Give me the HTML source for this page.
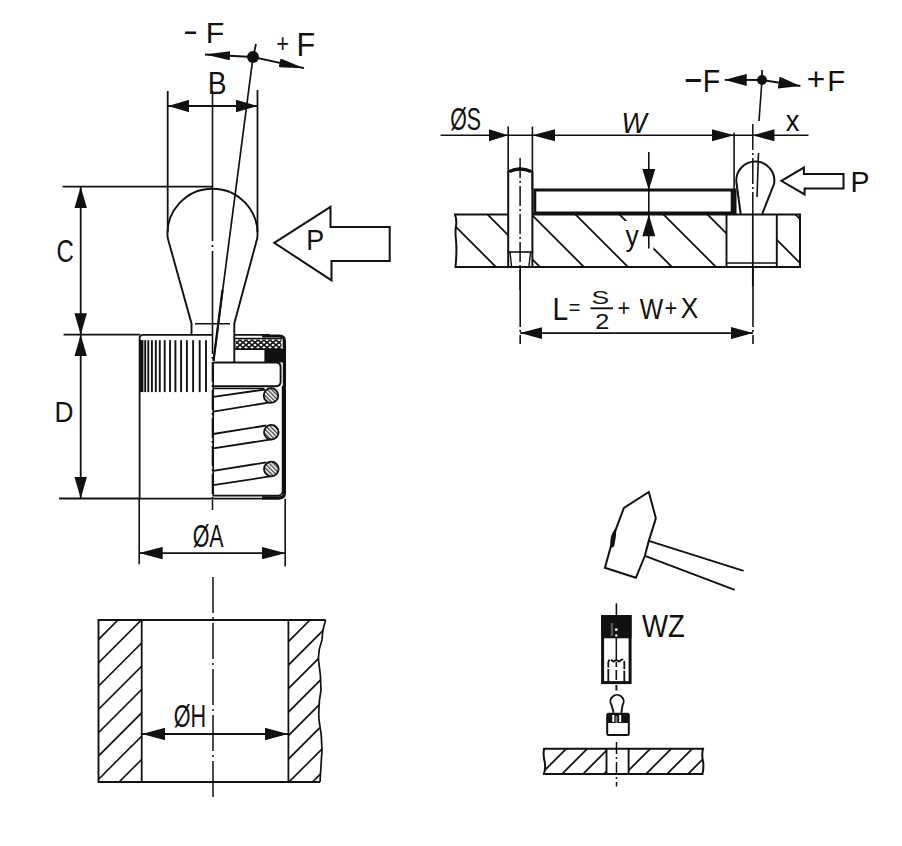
<!DOCTYPE html>
<html><head><meta charset="utf-8">
<style>
html,body{margin:0;padding:0;background:#fff;width:902px;height:846px;overflow:hidden}
svg{display:block}
text{font-family:"Liberation Sans",sans-serif;fill:#111}
</style></head><body>
<svg width="902" height="846" viewBox="0 0 902 846">
<defs>
<marker id="ah" viewBox="0 0 21.5 12.5" refX="21.5" refY="6.25" markerWidth="21.5" markerHeight="12.5" markerUnits="userSpaceOnUse" orient="auto-start-reverse"><path d="M0,0 L21.5,6.25 L0,12.5 Z" fill="#111"/></marker>
<marker id="ah2" viewBox="0 0 22 12" refX="22" refY="6" markerWidth="22" markerHeight="12" markerUnits="userSpaceOnUse" orient="auto-start-reverse"><path d="M0,0 L22,6 L0,12 Z" fill="#111"/></marker>
<pattern id="xh" width="6" height="5" patternUnits="userSpaceOnUse"><rect width="6" height="5" fill="#fff"/><path d="M0,0 L6,5 M6,0 L0,5" stroke="#111" stroke-width="1.6"/></pattern>
<pattern id="dh" width="3" height="3" patternUnits="userSpaceOnUse" patternTransform="rotate(-45)"><rect width="3" height="3" fill="#fff"/><line x1="0.7" y1="0" x2="0.7" y2="3" stroke="#333" stroke-width="1.3"/></pattern>
<marker id="ah3" viewBox="0 0 25 9" refX="25" refY="4.5" markerWidth="25" markerHeight="9" markerUnits="userSpaceOnUse" orient="auto-start-reverse"><path d="M0,0 L25,4.5 L0,9 Z" fill="#111"/></marker>
<marker id="ahL" viewBox="0 0 23.5 12.5" refX="23.5" refY="6.25" markerWidth="23.5" markerHeight="12.5" markerUnits="userSpaceOnUse" orient="auto-start-reverse"><path d="M0,0 L23.5,6.25 L0,12.5 Z" fill="#111"/></marker>
</defs>
<g stroke="#111" fill="none" stroke-width="1.8" stroke-linecap="butt">

<!-- ============ LEFT TOP: lever ============ -->
<!-- -F / +F arrows -->
<circle cx="253" cy="57" r="6" fill="#111" stroke="none"/>
<line x1="253" y1="57" x2="256" y2="44"/>
<line x1="253" y1="57" x2="205" y2="54.5" marker-end="url(#ah3)"/>
<line x1="253" y1="57" x2="304" y2="68.2" marker-end="url(#ah3)"/>
<!-- lever tilted line -->
<line x1="253" y1="57" x2="213.5" y2="361" stroke-width="1.7"/>
<line x1="222.5" y1="290" x2="213.5" y2="361" stroke-width="2.2"/>

<!-- B dimension -->
<line x1="167.7" y1="91" x2="167.7" y2="232"/>
<line x1="257.5" y1="90" x2="257.5" y2="232"/>
<line x1="167.7" y1="106" x2="257.5" y2="106" marker-start="url(#ah)" marker-end="url(#ah)"/>

<!-- centerline left -->
<line x1="212.5" y1="91" x2="212.5" y2="334" stroke-width="1.6" stroke-dasharray="150 4 2 4"/>

<!-- C / D dimension -->
<line x1="62.5" y1="186.6" x2="212.5" y2="186.6"/>
<line x1="63.6" y1="334.7" x2="140" y2="334.7"/>
<line x1="59" y1="498.5" x2="140" y2="498.5"/>
<line x1="80.7" y1="186.6" x2="80.7" y2="334.7" marker-start="url(#ah)" marker-end="url(#ah)"/>
<line x1="80.7" y1="334.7" x2="80.7" y2="498.5" marker-start="url(#ah)" marker-end="url(#ah)"/>

<!-- knob -->
<path d="M191.5,334.5 L191.5,323.5 L167.7,238 A45,45 0 1 1 257.3,238 L234.3,323.5 L234.3,362.5" stroke-width="1.9"/>
<line x1="195" y1="323.8" x2="230" y2="323.8" stroke-width="1.4"/>

<!-- P arrow left -->
<path d="M274.2,242.8 L330.5,206.8 L330.5,227 L389.7,227 L389.7,260.9 L331.5,260.9 L331.5,280.3 Z" stroke-width="2"/>


<!-- ============ BODY ============ -->
<path d="M212.5,334.8 L143,334.8 Q139.6,334.8 139.6,338.5 L139.6,498.7 L279.5,498.7" stroke-width="1.8"/>
<line x1="234.3" y1="334.8" x2="270" y2="334.8" stroke-width="1.8"/>
<line x1="284.4" y1="342" x2="284.4" y2="494" stroke-width="3.2"/>
<path d="M262,336 L279.5,336 Q284.4,336 284.4,341 L284.4,350" stroke-width="3.2"/>
<path d="M262,497.8 L279.5,497.8 Q284.4,497.8 284.4,493" stroke-width="3.2"/>
<!-- knurl -->
<g stroke-width="1.9"><line x1="142.5" y1="340.2" x2="142.5" y2="392.1"/><line x1="145.2" y1="340.2" x2="145.2" y2="392.1"/><line x1="148.3" y1="340.2" x2="148.3" y2="392.1"/><line x1="151.9" y1="340.2" x2="151.9" y2="392.1"/><line x1="155.8" y1="340.2" x2="155.8" y2="392.1"/><line x1="159.8" y1="340.2" x2="159.8" y2="392.1"/><line x1="164.7" y1="340.2" x2="164.7" y2="392.1"/><line x1="170" y1="340.2" x2="170" y2="392.1"/><line x1="175.4" y1="340.2" x2="175.4" y2="392.1"/><line x1="181.1" y1="340.2" x2="181.1" y2="392.1"/><line x1="186.9" y1="340.2" x2="186.9" y2="392.1"/><line x1="193.1" y1="340.2" x2="193.1" y2="392.1"/><line x1="199.7" y1="340.2" x2="199.7" y2="392.1"/><line x1="206" y1="340.2" x2="206" y2="392.1"/></g>
<line x1="140.8" y1="340" x2="140.8" y2="392" stroke-width="2.6"/>
<!-- inner section -->
<line x1="212.5" y1="334" x2="212.5" y2="500" stroke-width="1.6" stroke-dasharray="20 3 2 3"/>
<path d="M213.2,362.5 L213.2,495.6 L278,495.6 Q282.6,495.6 282.6,491 L282.6,386" stroke-width="1.7"/>
<!-- packing -->
<rect x="235.5" y="339.5" width="46" height="9.5" fill="url(#xh)" stroke="none"/>
<line x1="235" y1="338.5" x2="282" y2="338.5" stroke-width="1.4"/>
<line x1="235" y1="349.2" x2="282" y2="349.2" stroke-width="1.6"/>
<rect x="264.4" y="349" width="20" height="13.5" fill="#111" stroke="none"/>
<!-- plunger -->
<path d="M213.2,362.5 L276,362.5 Q280.6,362.5 280.6,367 L280.6,381.5 Q280.6,386.2 276,386.2 L213.2,386.2" stroke-width="1.9"/>
<line x1="213.2" y1="388.5" x2="264" y2="388.5" stroke-width="1.4"/>
<!-- coils -->
<g stroke-width="1.8">
<line x1="213.2" y1="396.8" x2="265" y2="389.5"/>
<line x1="213.2" y1="411.6" x2="271" y2="402.2"/>
<line x1="213.2" y1="434" x2="266.3" y2="425.5"/>
<line x1="213.2" y1="448.4" x2="271.3" y2="439.4"/>
<line x1="213.2" y1="470.9" x2="266.3" y2="462.3"/>
<line x1="213.2" y1="485.2" x2="271.3" y2="476.2"/>
</g>
<g fill="url(#dh)" stroke-width="1.8">
<circle cx="271" cy="395.5" r="7.3"/>
<circle cx="271.3" cy="432.2" r="7.3"/>
<circle cx="271.3" cy="469" r="7.3"/>
</g>

<!-- ØA dimension -->
<line x1="139.2" y1="498.7" x2="139.2" y2="564.3" stroke-width="1.6"/>
<line x1="285.2" y1="498.7" x2="285.2" y2="566.5" stroke-width="1.6"/>
<line x1="139.2" y1="553.1" x2="285.2" y2="553.1" marker-start="url(#ahL)" marker-end="url(#ahL)"/>
<line x1="212.5" y1="500" x2="212.5" y2="510" stroke-width="1.5"/>
<line x1="213" y1="577" x2="213" y2="800" stroke-width="1.5" stroke-dasharray="36 4 2 4"/>

<!-- ============ HOLE SECTION ============ -->
<clipPath id="cl1"><rect x="98.5" y="620" width="43.2" height="162"/></clipPath>
<clipPath id="cl2"><path d="M288.4,620 L325.6,620 L322,640 L318.5,660 L321,690 L319,720 L322,750 L320,782 L288.4,782 Z"/></clipPath>
<g clip-path="url(#cl1)" stroke-width="1.6">
<line x1="-108.6" y1="800" x2="91.4" y2="600"/><line x1="-85.3" y1="800" x2="114.7" y2="600"/><line x1="-62.0" y1="800" x2="138.0" y2="600"/><line x1="-38.7" y1="800" x2="161.3" y2="600"/><line x1="-15.4" y1="800" x2="184.6" y2="600"/><line x1="7.9" y1="800" x2="207.9" y2="600"/><line x1="31.2" y1="800" x2="231.2" y2="600"/><line x1="54.5" y1="800" x2="254.5" y2="600"/><line x1="77.8" y1="800" x2="277.8" y2="600"/><line x1="101.1" y1="800" x2="301.1" y2="600"/><line x1="124.4" y1="800" x2="324.4" y2="600"/><line x1="147.7" y1="800" x2="347.7" y2="600"/>
</g>
<g clip-path="url(#cl2)" stroke-width="1.6">
<line x1="83.0" y1="800" x2="283.0" y2="600"/><line x1="106.5" y1="800" x2="306.5" y2="600"/><line x1="130.0" y1="800" x2="330.0" y2="600"/><line x1="153.5" y1="800" x2="353.5" y2="600"/><line x1="177.0" y1="800" x2="377.0" y2="600"/><line x1="200.5" y1="800" x2="400.5" y2="600"/><line x1="224.0" y1="800" x2="424.0" y2="600"/><line x1="247.5" y1="800" x2="447.5" y2="600"/><line x1="271.0" y1="800" x2="471.0" y2="600"/><line x1="294.5" y1="800" x2="494.5" y2="600"/><line x1="318.0" y1="800" x2="518.0" y2="600"/><line x1="341.5" y1="800" x2="541.5" y2="600"/>
</g>
<path d="M325.6,620 L98.5,620 L98.5,782 L320,782" stroke-width="1.9"/>
<path d="M325.6,620 Q322,630 322,640 Q318,650 318.5,660 Q321,675 321,690 Q318,705 319,720 Q322,735 322,750 Q321,765 320,782" stroke-width="1.7"/>
<line x1="141.7" y1="620" x2="141.7" y2="782" stroke-width="1.8"/>
<line x1="288.4" y1="620" x2="288.4" y2="782" stroke-width="1.8"/>
<line x1="141.7" y1="734" x2="288.4" y2="734" marker-start="url(#ahL)" marker-end="url(#ahL)"/>

<!-- ============ RIGHT TOP ============ -->
<circle cx="762" cy="80" r="5" fill="#111" stroke="none"/>
<line x1="762" y1="80" x2="762" y2="70"/>
<line x1="762" y1="80" x2="724.7" y2="79.8" marker-end="url(#ah2)"/>
<line x1="762" y1="80" x2="800.4" y2="86" marker-end="url(#ah2)"/>
<line x1="762" y1="80" x2="759" y2="121" stroke-width="1.6"/>
<!-- dim line S/W/x -->
<line x1="440.6" y1="135.3" x2="808.5" y2="135.3" stroke-width="1.6"/>
<path d="M489,129.3 L508.2,135.3 L489,141.3 Z M555,129.3 L532.4,135.3 L555,141.3 Z M712,129.3 L734.1,135.3 L712,141.3 Z M774.4,129.3 L752.6,135.3 L774.4,141.3 Z" fill="#111" stroke="none"/>
<line x1="508.2" y1="126.6" x2="508.2" y2="172" stroke-width="1.6"/>
<line x1="532.4" y1="126.6" x2="532.4" y2="190" stroke-width="1.6"/>
<line x1="734.1" y1="132.7" x2="734.1" y2="190" stroke-width="1.6"/>
<line x1="752.8" y1="124" x2="752.8" y2="214" stroke-width="1.5" stroke-dasharray="26 3 2 3"/>
<line x1="752.8" y1="214" x2="752.8" y2="286" stroke-width="1.7"/>
<!-- plate hatching -->
<clipPath id="cp1"><path d="M455.5,214.5 L508.2,214.5 L508.2,267 L455.5,267 Z"/></clipPath>
<clipPath id="cp2"><path d="M532.4,214.5 L726.5,214.5 L726.5,267 L532.4,267 Z"/></clipPath>
<clipPath id="cp3"><path d="M776.8,214.5 L800,214.5 L800,267 L776.8,267 Z"/></clipPath>
<g stroke-width="1.8">
<g clip-path="url(#cp1)"><line x1="385.0" y1="200" x2="465.0" y2="280"/><line x1="429.0" y1="200" x2="509.0" y2="280"/><line x1="473.0" y1="200" x2="553.0" y2="280"/><line x1="517.0" y1="200" x2="597.0" y2="280"/><line x1="561.0" y1="200" x2="641.0" y2="280"/><line x1="605.0" y1="200" x2="685.0" y2="280"/><line x1="649.0" y1="200" x2="729.0" y2="280"/><line x1="693.0" y1="200" x2="773.0" y2="280"/><line x1="737.0" y1="200" x2="817.0" y2="280"/><line x1="781.0" y1="200" x2="861.0" y2="280"/><line x1="825.0" y1="200" x2="905.0" y2="280"/></g>
<g clip-path="url(#cp2)"><line x1="385.0" y1="200" x2="465.0" y2="280"/><line x1="429.0" y1="200" x2="509.0" y2="280"/><line x1="473.0" y1="200" x2="553.0" y2="280"/><line x1="517.0" y1="200" x2="597.0" y2="280"/><line x1="561.0" y1="200" x2="641.0" y2="280"/><line x1="605.0" y1="200" x2="685.0" y2="280"/><line x1="649.0" y1="200" x2="729.0" y2="280"/><line x1="693.0" y1="200" x2="773.0" y2="280"/><line x1="737.0" y1="200" x2="817.0" y2="280"/><line x1="781.0" y1="200" x2="861.0" y2="280"/><line x1="825.0" y1="200" x2="905.0" y2="280"/></g>
<g clip-path="url(#cp3)"><line x1="385.0" y1="200" x2="465.0" y2="280"/><line x1="429.0" y1="200" x2="509.0" y2="280"/><line x1="473.0" y1="200" x2="553.0" y2="280"/><line x1="517.0" y1="200" x2="597.0" y2="280"/><line x1="561.0" y1="200" x2="641.0" y2="280"/><line x1="605.0" y1="200" x2="685.0" y2="280"/><line x1="649.0" y1="200" x2="729.0" y2="280"/><line x1="693.0" y1="200" x2="773.0" y2="280"/><line x1="737.0" y1="200" x2="817.0" y2="280"/><line x1="781.0" y1="200" x2="861.0" y2="280"/><line x1="825.0" y1="200" x2="905.0" y2="280"/></g>
</g>
<path d="M622,221 L653.5,221 L653.5,249 L622,249 Z" fill="#fff" stroke="none"/>
<!-- plate outline -->
<path d="M508.2,214.5 L455,214.5 Q457,220 456,226 Q455,232 456,240 Q457,252 455.5,267 L800,267 L800,214.5 L776.8,214.5" stroke-width="2"/>
<line x1="532.4" y1="214.5" x2="776.8" y2="214.5" stroke-width="2"/>
<line x1="726.5" y1="214.5" x2="726.5" y2="267" stroke-width="1.9"/>
<line x1="776.8" y1="214.5" x2="776.8" y2="267" stroke-width="1.9"/>
<line x1="726.5" y1="263" x2="776.8" y2="263" stroke-width="1.5"/>
<!-- pin -->
<path d="M508.2,267 L508.2,172 Q520,165 532.4,172 L532.4,267" stroke-width="2"/>
<path d="M509.5,171.5 Q520,166.5 531,171.5" stroke-width="3.4"/>
<line x1="508.2" y1="252" x2="532.4" y2="252" stroke-width="1.6"/>
<line x1="510" y1="252" x2="511.5" y2="266" stroke-width="1.4"/>
<line x1="530.6" y1="252" x2="529" y2="266" stroke-width="1.4"/>
<line x1="520.1" y1="158" x2="520.1" y2="292" stroke-width="1.5" stroke-dasharray="20 3 2 3"/>
<!-- workpiece -->
<path d="M534.8,190 L735,190 L735,213 L534.8,213 Z" stroke-width="3"/>
<rect x="730.7" y="189" width="5.3" height="25" fill="#111" stroke="none"/>
<!-- knob right -->
<path d="M740.7,214 L736.5,183 A19,19 0 1 1 774,184 L762.2,214" stroke-width="2"/>
<line x1="758.5" y1="153" x2="757" y2="197" stroke-width="1.6"/>
<!-- y dimension -->
<line x1="648.8" y1="152" x2="648.8" y2="248.5" stroke-width="1.6"/>
<path d="M642.3,169 L648.8,190 L655.3,169 Z M642.3,236.3 L648.8,214.4 L655.3,236.3 Z" fill="#111" stroke="none"/>
<!-- P arrow right -->
<path d="M781.3,180.8 L803.9,167.6 L803.9,173.9 L843.5,173.9 L843.5,188.5 L804.6,188.5 L804.6,194.4 Z" stroke-width="2"/>
<!-- L dim -->
<line x1="520.2" y1="267" x2="520.2" y2="344" stroke-width="1.6" stroke-dasharray="60 3 2 3"/>
<line x1="753" y1="267" x2="753" y2="344" stroke-width="1.6" stroke-dasharray="60 3 2 3"/>
<line x1="520.2" y1="333.1" x2="753" y2="333.1" stroke-width="1.6" marker-start="url(#ah2)" marker-end="url(#ah2)"/>
<line x1="590.5" y1="308.3" x2="613" y2="308.3" stroke-width="1.9"/>

<!-- ============ HAMMER ============ -->
<path d="M648.8,492 L655.8,517.9 L654.8,521.9 L648.8,540.9 L644.9,555.8 L635.9,577.8 L604.9,567.8 L614.9,531.9 L623.9,507.9 Z" stroke-width="2"/>
<path d="M615.5,529.5 Q609.5,537 611.5,547 L613.5,546 L615.2,536 Z" fill="#111" stroke-width="1.5"/>
<line x1="648.8" y1="540.9" x2="743.6" y2="570.8" stroke-width="1.9"/>
<line x1="644.9" y1="555.8" x2="734.7" y2="589.8" stroke-width="1.9"/>

<!-- ============ WZ ============ -->
<line x1="616.4" y1="603.3" x2="616.4" y2="615" stroke-width="1.6"/>
<rect x="602.6" y="616.6" width="27.5" height="66" stroke-width="3"/>
<rect x="601.2" y="615.1" width="30.3" height="23.2" fill="#111" stroke="none"/>
<rect x="610.7" y="623" width="2.6" height="13" fill="#555" stroke="none"/>
<circle cx="616.3" cy="629.7" r="1.4" fill="#fff" stroke="none"/>
<circle cx="616.3" cy="635.4" r="1.2" fill="#eee" stroke="none"/>
<line x1="616.3" y1="638" x2="616.3" y2="660" stroke-width="1.5"/>
<path d="M608.3,683 L608.3,662.5 Q608.8,659.5 610.5,659.5 L613.5,661.5 Q616.3,659 619,661.5 L622,659.5 Q623.8,659.5 624.3,662.5 L624.3,683" stroke-width="1.8" stroke-dasharray="14 1.5 8 1.5"/>
<line x1="616.3" y1="662" x2="616.3" y2="683" stroke-width="1.6" stroke-dasharray="5 3 10"/>
<line x1="616.4" y1="685" x2="616.4" y2="690.5" stroke-width="2"/>
<path d="M613.7,712.8 L611.5,705 A6.6,6.6 0 1 1 622.6,705 L621.3,712.8" stroke-width="1.9"/>
<rect x="607.2" y="713.8" width="21.6" height="21.3" rx="1.5" stroke-width="2"/>
<rect x="607" y="713.5" width="22" height="9.5" fill="#111" stroke="none"/>
<rect x="612.3" y="715" width="2" height="7" fill="#fff" stroke="none"/>
<rect x="619.2" y="715" width="2" height="7" fill="#fff" stroke="none"/>
<rect x="615.5" y="716" width="2" height="7" fill="#777" stroke="none"/>

<!-- ============ BOTTOM PLATE ============ -->
<clipPath id="cb1"><rect x="544" y="748.8" width="62.5" height="25.1"/></clipPath>
<clipPath id="cb2"><rect x="628.6" y="748.8" width="74.4" height="25.1"/></clipPath>
<g stroke-width="1.8">
<g clip-path="url(#cb1)"><line x1="473.0" y1="800" x2="573.0" y2="700"/><line x1="494.0" y1="800" x2="594.0" y2="700"/><line x1="515.0" y1="800" x2="615.0" y2="700"/><line x1="536.0" y1="800" x2="636.0" y2="700"/><line x1="557.0" y1="800" x2="657.0" y2="700"/><line x1="578.0" y1="800" x2="678.0" y2="700"/><line x1="599.0" y1="800" x2="699.0" y2="700"/><line x1="620.0" y1="800" x2="720.0" y2="700"/><line x1="641.0" y1="800" x2="741.0" y2="700"/><line x1="662.0" y1="800" x2="762.0" y2="700"/><line x1="683.0" y1="800" x2="783.0" y2="700"/><line x1="704.0" y1="800" x2="804.0" y2="700"/><line x1="725.0" y1="800" x2="825.0" y2="700"/><line x1="746.0" y1="800" x2="846.0" y2="700"/></g>
<g clip-path="url(#cb2)"><line x1="473.0" y1="800" x2="573.0" y2="700"/><line x1="494.0" y1="800" x2="594.0" y2="700"/><line x1="515.0" y1="800" x2="615.0" y2="700"/><line x1="536.0" y1="800" x2="636.0" y2="700"/><line x1="557.0" y1="800" x2="657.0" y2="700"/><line x1="578.0" y1="800" x2="678.0" y2="700"/><line x1="599.0" y1="800" x2="699.0" y2="700"/><line x1="620.0" y1="800" x2="720.0" y2="700"/><line x1="641.0" y1="800" x2="741.0" y2="700"/><line x1="662.0" y1="800" x2="762.0" y2="700"/><line x1="683.0" y1="800" x2="783.0" y2="700"/><line x1="704.0" y1="800" x2="804.0" y2="700"/><line x1="725.0" y1="800" x2="825.0" y2="700"/><line x1="746.0" y1="800" x2="846.0" y2="700"/></g>
</g>
<path d="M544,748.8 L703,748.8 Q701.5,755 703,761 Q704,767 702.5,773.9 L544,773.9 Q546,767 544.5,761 Q543,755 544,748.8 Z" stroke-width="2"/>
<line x1="606.5" y1="748.8" x2="606.5" y2="773.9" stroke-width="1.9"/>
<line x1="628.6" y1="748.8" x2="628.6" y2="773.9" stroke-width="1.9"/>
<line x1="616.5" y1="742" x2="616.5" y2="786.5" stroke-width="1.5" stroke-dasharray="12 3 2 3"/>
</g>
<g>
<text transform="matrix(0.1982,0,0,0.3857,185.00,43.09)" font-size="100">–</text>
<text transform="matrix(0.3041,0,0,0.3014,205.87,43.30)" font-size="100">F</text>
<text transform="matrix(0.2204,0,0,0.2531,276.20,52.18)" font-size="100">+</text>
<text transform="matrix(0.3061,0,0,0.3246,296.45,55.70)" font-size="100">F</text>
<text transform="matrix(0.2830,0,0,0.3100,207.74,94.00)" font-size="100">B</text>
<text transform="matrix(0.2397,0,0,0.3110,56.50,261.60)" font-size="100">C</text>
<text transform="matrix(0.2627,0,0,0.2913,54.40,421.70)" font-size="100">D</text>
<text transform="matrix(0.2679,0,0,0.2928,306.26,250.40)" font-size="100">P</text>
<text transform="matrix(0.2143,0,0,0.3133,192.64,547.06)" font-size="100">ØA</text>
<text transform="matrix(0.2159,0,0,0.3093,173.64,727.07)" font-size="100">ØH</text>
<text transform="matrix(0.2714,0,0,0.4714,685.80,92.27)" font-size="100">–</text>
<text transform="matrix(0.2857,0,0,0.3043,702.71,92.00)" font-size="100">F</text>
<text transform="matrix(0.3163,0,0,0.3061,806.72,89.96)" font-size="100">+</text>
<text transform="matrix(0.2939,0,0,0.3029,827.35,90.80)" font-size="100">F</text>
<text transform="matrix(0.2132,0,0,0.3133,450.15,130.06)" font-size="100">ØS</text>
<text transform="matrix(0.2677,0,0,0.2899,621.49,133.00)" font-size="100" font-style="italic">W</text>
<text transform="matrix(0.2729,0,0,0.2962,785.63,130.70)" font-size="100">x</text>
<text transform="matrix(0.2660,0,0,0.2878,625.40,245.66)" font-size="100">y</text>
<text transform="matrix(0.2849,0,0,0.2870,850.52,192.00)" font-size="100">P</text>
<text transform="matrix(0.2818,0,0,0.3087,552.55,319.60)" font-size="100">L</text>
<text transform="matrix(0.2000,0,0,0.2219,568.80,315.37)" font-size="100">=</text>
<text transform="matrix(0.2649,0,0,0.1873,591.58,304.31)" font-size="100">S</text>
<text transform="matrix(0.2522,0,0,0.2271,595.14,329.30)" font-size="100">2</text>
<text transform="matrix(0.2184,0,0,0.2367,617.51,316.43)" font-size="100">+</text>
<text transform="matrix(0.2484,0,0,0.2957,639.65,318.70)" font-size="100">W</text>
<text transform="matrix(0.2184,0,0,0.2367,664.51,316.43)" font-size="100">+</text>
<text transform="matrix(0.2623,0,0,0.2957,680.81,317.80)" font-size="100">X</text>
<text transform="matrix(0.2755,0,0,0.3217,642.12,637.00)" font-size="100">WZ</text>
</g>
</svg>
</body></html>
